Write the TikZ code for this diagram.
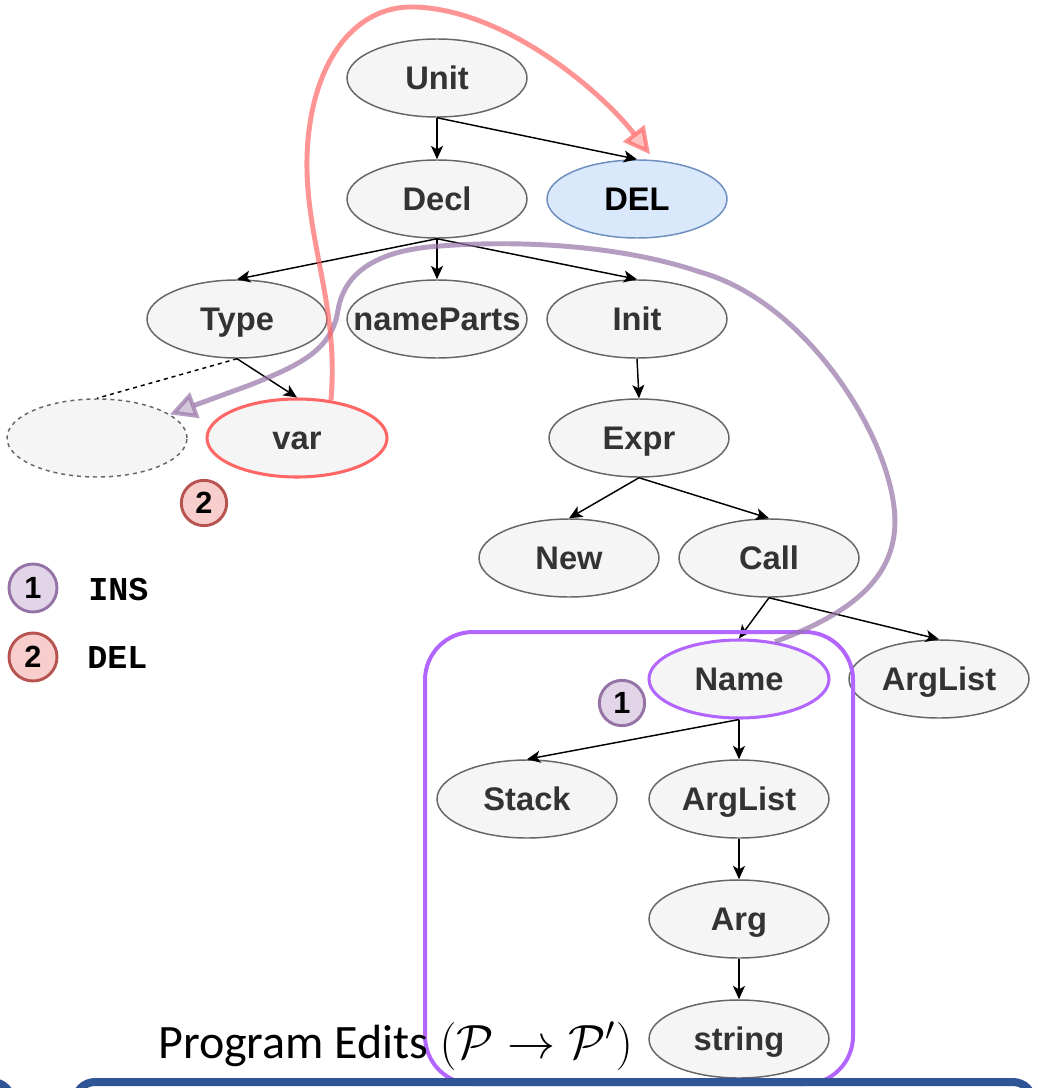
\RequirePackage{fix-cm}
\documentclass[tikz,border=0pt]{standalone}
\usepackage{fontspec}
\setmainfont{Liberation Sans}
\newfontfamily\monof{Liberation Mono}
\newfontfamily\calib{Carlito}
\usetikzlibrary{shapes.geometric,arrows.meta}
\definecolor{nodefill}{HTML}{F5F5F5}
\definecolor{nodedraw}{HTML}{666666}
\definecolor{txt}{HTML}{333333}
\definecolor{delfill}{HTML}{DAE8FC}
\definecolor{deldraw}{HTML}{6C8EBF}
\definecolor{varred}{HTML}{FF6666}
\definecolor{insviolet}{HTML}{B266FF}
\definecolor{badgeinsfill}{HTML}{E1D5E7}
\definecolor{badgeinsdraw}{HTML}{9673A6}
\definecolor{badgedelfill}{HTML}{F8CECC}
\definecolor{badgedeldraw}{HTML}{B85450}
\definecolor{barblue}{HTML}{2F5597}
\newcommand\zw[1]{\makebox[0pt]{#1}}
\tikzset{
  tn/.style={ellipse, draw=nodedraw, fill=nodefill, line width=1.1pt,
    minimum width=135pt, minimum height=58.5pt, inner sep=0pt,
    text=txt, font=\fontsize{24.5}{28}\selectfont\bfseries,
    text height=17.5pt, text depth=0pt},
  ed/.style={line width=1.1pt, -{Stealth[length=10pt,width=9pt,inset=2.5pt]}},
  badge/.style={circle, inner sep=0pt, line width=2.2pt, text=black,
    font=\fontsize{23}{25}\selectfont\bfseries},
  redc/.style={line width=3.7pt, draw=varred, draw opacity=0.7,
    -{Triangle[length=20pt,width=20pt,line width=3pt,fill=varred!40]}},
  purc/.style={line width=3.7pt, draw=badgeinsdraw, draw opacity=0.7,
    -{Triangle[length=20pt,width=20pt,line width=3pt,fill=badgeinsdraw!40]}},
  legtext/.style={anchor=west, inner sep=0pt, font=\monof\bfseries\fontsize{25}{27}\selectfont}
}
\begin{document}
\begin{tikzpicture}[x=0.75pt,y=-0.75pt]
\useasboundingbox (0,0) rectangle (1038,1088);
\clip (0,0) rectangle (1038,1088);

% tree nodes
\node[tn] (unit) at (437,78) {\zw{Unit}};
\node[tn] (decl) at (437,199) {\zw{Decl}};
\node[tn, fill=delfill, draw=deldraw, text=black] (del) at (637,199) {\zw{DEL}};
\node[tn] (type) at (237,319) {\zw{Type}};
\node[tn] (np) at (437,319) {\zw{nameParts}};
\node[tn] (init) at (637,319) {\zw{Init}};
\node[tn, dashed] (empty) at (97,438) {};
\node[tn, draw=varred, line width=2.3pt] (var) at (297,438) {\zw{var}};
\node[tn] (expr) at (639,438) {\zw{Expr}};
\node[tn] (new) at (569,558) {\zw{New}};
\node[tn] (call) at (769,558) {\zw{Call}};
\node[tn, draw=insviolet, line width=2.3pt] (name) at (739,679) {\zw{Name}};
\node[tn] (arglr) at (939,679) {\zw{ArgList}};
\node[tn] (stack) at (527,799) {\zw{Stack}};
\node[tn] (argl) at (739,799) {\zw{ArgList}};
\node[tn] (arg) at (739,919) {\zw{Arg}};
\node[tn] (str) at (739,1039) {\zw{string}};

% edges
\draw[ed] (unit.south) -- (decl.north);
\draw[ed] (unit.south) -- (del.north);
\draw[ed] (decl.south) -- (type.north);
\draw[ed] (decl.south) -- (np.north);
\draw[ed] (decl.south) -- (init.north);
\draw[ed] (type.south) -- (var.north);
\draw[line width=1.1pt, dashed] (type.south) -- (empty.north);
\draw[ed] (init.south) -- (expr.north);
\draw[ed] (expr.south) -- (new.north);
\draw[ed] (expr.south) -- (call.north);
\draw[ed] (call.south) -- (name.north);
\draw[ed] (call.south) -- (arglr.north);
\draw[ed] (name.south) -- (stack.north);
\draw[ed] (name.south) -- (argl.north);
\draw[ed] (argl.south) -- (arg.north);
\draw[ed] (arg.south) -- (str.north);

% insertion region
\draw[line width=3pt, draw=insviolet, rounded corners=36pt] (425,632) rectangle (853,1084);

% badges
\node[badge, minimum size=34pt, fill=badgedelfill, draw=badgedeldraw] (b2) at (204,503) {2};
\node[badge, minimum size=34pt, fill=badgeinsfill, draw=badgeinsdraw] (b1) at (622,703) {1};

% legend
\node[badge, minimum size=36pt, fill=badgeinsfill, draw=badgeinsdraw] (l1) at (33,588) {1};
\node[legtext] (insl) at (88,590) {INS};
\node[badge, minimum size=36pt, fill=badgedelfill, draw=badgedeldraw] (l2) at (33,657) {2};
\node[legtext] (dell) at (87,658) {DEL};

% edit arrows
\draw[purc] (name.46) .. controls (860,610) and (905,570) .. (893,500)
  .. controls (880,420) and (800,300) .. (700,272)
  .. controls (620,245) and (520,240) .. (440,246)
  .. controls (380,250) and (345,270) .. (338,310)
  .. controls (332,350) and (300,365) .. (250,385) -- (empty.18);
\draw[redc] (var.48) .. controls (340,300) and (300,230) .. (308,140)
  .. controls (315,60) and (355,5) .. (415,7)
  .. controls (505,10) and (600,90) .. ([shift={(13,-5)}]del.north);

% caption
\node[anchor=base west, inner sep=0pt, font=\calib\fontsize{36}{40}\selectfont] (title) at (158,1058)
  {Program Edits $(\mathcal{P}\rightarrow\mathcal{P}')$};

% bottom panels (cut off)
\draw[line width=6pt, draw=barblue, rounded corners=15pt] (75,1082) rectangle (1033,1250);
\draw[line width=6pt, draw=barblue, rounded corners=15pt] (-200,1082) rectangle (12,1250);
\end{tikzpicture}
\end{document}
